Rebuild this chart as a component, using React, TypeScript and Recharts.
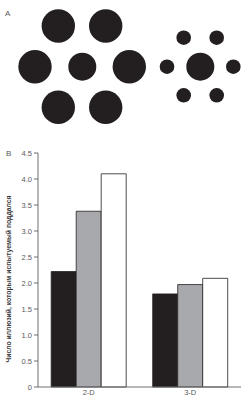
import { BarChart, Bar, XAxis, YAxis, ScatterChart, Scatter, Label } from "recharts";

// panel A: Ebbinghaus figure (pixel units of the drawing)
const circleX = [58.3, 105.7, 35, 82.3, 129.3, 58.3, 105.7, 200.3, 183.7, 216.7, 167, 233.3, 183.7, 216.7];
const circleY = [26, 26, 66.7, 66.7, 66.7, 107.3, 107.3, 66.7, 37.7, 37.7, 66.7, 66.7, 95.3, 95.3];
const circleR = [16.7, 16.7, 16.7, 14, 16.7, 16.7, 16.7, 14, 7.3, 7.3, 7.3, 7.3, 7.3, 7.3];

// panel B
const categories = ["2-D", "3-D"];
const blackVals = [2.22, 1.79];
const grayVals = [3.38, 1.97];
const whiteVals = [4.1, 2.09];
const yTicks = [0, 0.5, 1, 1.5, 2, 2.5, 3, 3.5, 4, 4.5];
const yLabel = "Число иллюзий, которым испытуемый поддался";

const circles = circleX.map((x, i) => ({ x, y: circleY[i], r: circleR[i] }));
const bars = categories.map((name, i) => ({
  name,
  black: blackVals[i],
  gray: grayVals[i],
  white: whiteVals[i],
}));

const ink = "#231f20";
const axisColor = "#6d6e71";
const textColor = "#58595b";
const font = "'Liberation Sans', Arial, sans-serif";

function Dot(props: any) {
  const { cx, cy, payload } = props;
  return <circle cx={cx} cy={cy} r={payload.r} fill={ink} />;
}

// rotated axis title, sitting a little below the plot's middle like the original
function YTitle(props: any) {
  const { viewBox } = props;
  const x = 8.5;
  const y = viewBox.y + viewBox.height / 2 + 9;
  return (
    <text
      x={x}
      y={y}
      transform={`rotate(-90 ${x} ${y})`}
      textAnchor="middle"
      dominantBaseline="central"
      fill="#3a3a3c"
      fontSize={6.8}
      fontWeight="bold"
      fontFamily={font}
    >
      {yLabel}
    </text>
  );
}

export default function App() {
  return (
    <div style={{ position: "absolute", left: 0, top: 0, width: 247, height: 402, background: "#fff", fontFamily: font }}>
      <div style={{ position: "absolute", left: 5, top: 9, fontSize: 8, color: textColor }}>A</div>
      <div style={{ position: "absolute", left: 0, top: 0 }}>
        <ScatterChart width={247} height={140} margin={{ top: 0, right: 0, bottom: 0, left: 0 }}>
          <XAxis type="number" dataKey="x" domain={[0, 247]} hide />
          <YAxis type="number" dataKey="y" domain={[0, 140]} reversed hide width={0} />
          <Scatter data={circles} shape={<Dot />} isAnimationActive={false} />
        </ScatterChart>
      </div>

      <div style={{ position: "absolute", left: 6, top: 149, fontSize: 8, color: textColor }}>B</div>
      <div style={{ position: "absolute", left: 0, top: 140 }}>
        <BarChart
          width={247}
          height={262}
          data={bars}
          margin={{ top: 13, right: 6, bottom: 0, left: 0 }}
          barGap={0}
          barCategoryGap="13%"
        >
          <XAxis
            dataKey="name"
            tickLine={false}
            tickSize={0}
            tickMargin={3}
            height={15}
            stroke={axisColor}
            tick={{ fill: textColor, fontSize: 7.5, fontFamily: font }}
          />
          <YAxis
            width={38}
            domain={[0, 4.5]}
            ticks={yTicks}
            interval={0}
            tickSize={4}
            stroke={axisColor}
            tick={{ fill: textColor, fontSize: 7.5, fontFamily: font }}
            tickFormatter={(v: number) => (v === 0 ? "0" : v.toFixed(1))}
          >
            <Label content={<YTitle />} />
          </YAxis>
          <Bar dataKey="black" fill={ink} stroke={ink} strokeWidth={0.8} isAnimationActive={false} />
          <Bar dataKey="gray" fill="#a7a9ac" stroke={ink} strokeWidth={0.8} isAnimationActive={false} />
          <Bar dataKey="white" fill="#ffffff" stroke={ink} strokeWidth={0.8} isAnimationActive={false} />
        </BarChart>
      </div>
    </div>
  );
}
